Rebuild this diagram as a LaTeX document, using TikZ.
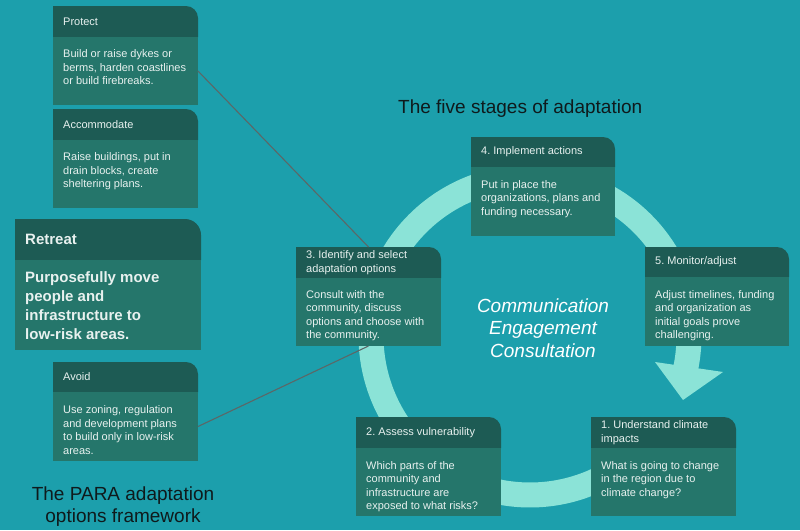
\documentclass[tikz,border=0pt]{standalone}
\usepackage{fontspec}
\setmainfont{Liberation Sans}
\frenchspacing
\definecolor{bgcol}{HTML}{1C9FAC}
\definecolor{hdrcol}{HTML}{1D5B54}
\definecolor{bodycol}{HTML}{25766B}
\definecolor{ringcol}{HTML}{8BE3D7}
\definecolor{txtcol}{HTML}{E8F1EF}
\definecolor{conncol}{HTML}{5B6767}
\definecolor{titlecol}{HTML}{0F1A1C}
\newcommand{\paracard}[7]{%
  \fill[hdrcol] (#2,#5) -- (#2,#3) -- ({#4-#7},#3) .. controls ({#4-0.448*#7},#3) and (#4,{#3+0.448*#7}) .. (#4,{#3+#7}) -- (#4,#5) -- cycle;
  \node[bodybox, anchor=north west, minimum width={(#4-#2)*1pt}, minimum height={(#6-#5)*1pt}] (#1body) at (#2,#5) {};
  \node[cardbox, anchor=north west, minimum width={(#4-#2)*1pt}, minimum height={(#6-#3)*1pt}] (#1) at (#2,#3) {};
}
\begin{document}
\begin{tikzpicture}[x=1pt,y=-1pt,
  bodybox/.style={fill=bodycol, inner sep=0pt, outer sep=0pt, draw=none},
  cardbox/.style={inner sep=0pt, outer sep=0pt, draw=none},
  hdrtext/.style={text=txtcol, font=\fontsize{11}{13.5}\selectfont, inner sep=0pt, align=left, anchor=west},
  bodytext/.style={text=txtcol, font=\fontsize{11}{13.5}\selectfont, inner sep=0pt, align=left, anchor=north west},
  bigtext/.style={text=txtcol, font=\fontsize{15}{19.3}\selectfont\bfseries, inner sep=0pt, align=left},
  titletext/.style={text=titlecol, font=\fontsize{19}{22}\selectfont, inner sep=0pt},
  conn/.style={draw=conncol, line width=1.1pt},
  ring/.style={draw=ringcol, line width=25pt}
]
\useasboundingbox (0,0) rectangle (800,530);
\fill[bgcol] (0,0) rectangle (800,530);

% cycle ring and arrowhead
\draw[ring] plot[domain=40:374, samples=140, smooth] ({530+159*cos(\x)},{336+159*sin(\x)});
\fill[ringcol] (655,362) -- (723,372) -- (683,400) -- cycle;

% cards
\paracard{protect}{53}{6}{198}{37}{105}{12}
\paracard{accom}{53}{109}{198}{140}{208}{12}
\paracard{retreat}{15}{219}{201}{260}{350}{16}
\paracard{avoid}{53}{362}{198}{392}{461}{12}
\paracard{cfour}{471}{137}{615}{167}{236}{12}
\paracard{cthree}{296}{247}{441}{278}{346}{12}
\paracard{cfive}{645}{247}{789}{277}{346}{12}
\paracard{cone}{591}{417}{736}{448}{516}{12}
\paracard{ctwo}{356}{417}{501}{448}{516}{12}

% connectors
\draw[conn] (protectbody.east) -- (cthree.north);
\draw[conn] (avoidbody.east) -- (cthree.south);

% card texts
\node[hdrtext] (protecth) at (63,21.5) {Protect};
\node[bodytext] (protectt) at (63,49.5) {Build or raise dykes or\\berms, harden coastlines\\or build firebreaks.};
\node[hdrtext] (accomh) at (63,124.5) {Accommodate};
\node[bodytext] (accomt) at (63,152.5) {Raise buildings, put in\\drain blocks, create\\sheltering plans.};
\node[bigtext, anchor=west] (retreath) at (25,239.5) {Retreat};
\node[bigtext, anchor=north west] (retreatt) at (25,271) {Purposefully move\\people and\\infrastructure to\\low-risk areas.};
\node[hdrtext] (avoidh) at (63,377) {Avoid};
\node[bodytext] (avoidt) at (63,405.5) {Use zoning, regulation\\and development plans\\to build only in low-risk\\areas.};

\node[hdrtext] (cfourh) at (481,152) {4. Implement actions};
\node[bodytext] (cfourt) at (481,180) {Put in place the\\organizations, plans and\\funding necessary.};
\node[hdrtext] (cthreeh) at (306,262.5) {3. Identify and select\\adaptation options};
\node[bodytext] (cthreet) at (306,290) {Consult with the\\community, discuss\\options and choose with\\the community.};
\node[hdrtext] (cfiveh) at (655,262) {5. Monitor/adjust};
\node[bodytext] (cfivet) at (655,290) {Adjust timelines, funding\\and organization as\\initial goals prove\\challenging.};
\node[hdrtext] (coneh) at (601,432.5) {1. Understand climate\\impacts};
\node[bodytext] (conet) at (601,461) {What is going to change\\in the region due to\\climate change?};
\node[hdrtext] (ctwoh) at (366,432.5) {2. Assess vulnerability};
\node[bodytext] (ctwot) at (366,461) {Which parts of the\\community and\\infrastructure are\\exposed to what risks?};

% titles
\node[titletext, anchor=base west] (stagestitle) at (398,113) {The five stages of adaptation};
\node[titletext, anchor=north, align=center] (paratitle) at (123,486.5) {The PARA adaptation\\options framework};
\node[text=white, font=\fontsize{19}{22.5}\selectfont\itshape, inner sep=0pt, align=center, anchor=north] (centre) at (543,298.5) {Communication\\Engagement\\Consultation};
\end{tikzpicture}
\end{document}
